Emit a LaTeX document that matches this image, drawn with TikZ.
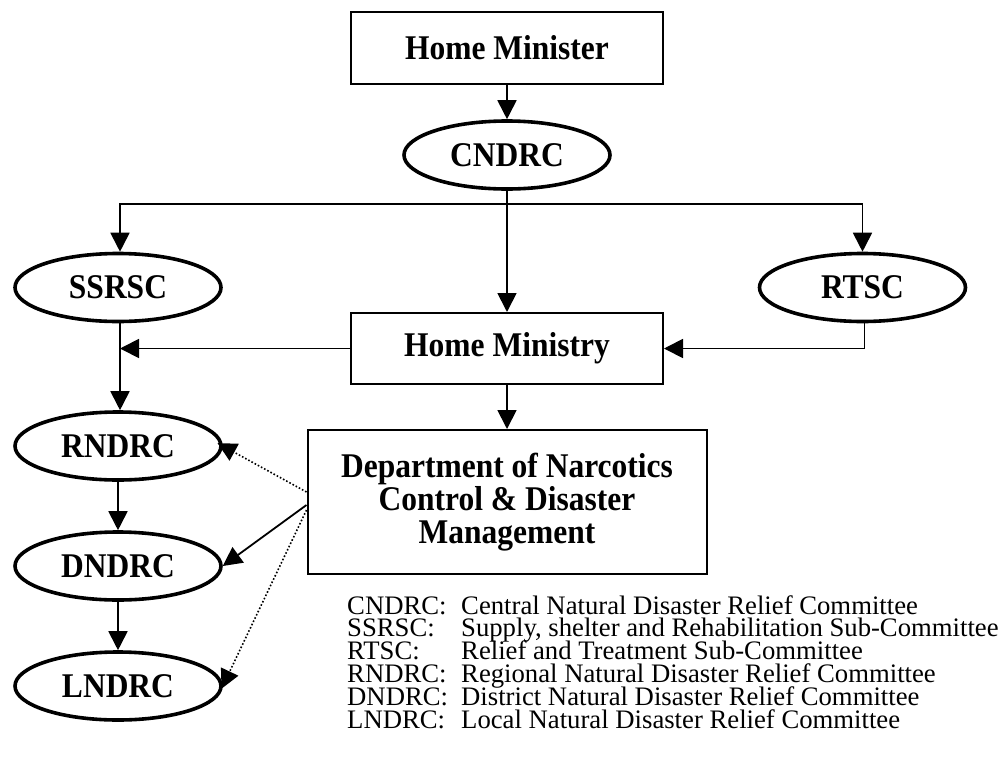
\documentclass[tikz,border=0pt]{standalone}
\usepackage{fontspec}
\usepackage{graphicx}
\setmainfont{Liberation Serif}
\usetikzlibrary{shapes.geometric,arrows.meta,calc}
% bold labels are set slightly taller than wide
\newcommand{\tallbf}[1]{\scalebox{1}[1.1]{#1}}
\begin{document}
\begin{tikzpicture}[x=1pt,y=-1pt,
  lbl/.style={font=\fontsize{31.5}{33.3}\selectfont\bfseries},
  boxnode/.style={lbl,draw,rectangle,line width=2pt,inner sep=0pt,align=center},
  oval/.style={lbl,draw,ellipse,line width=3.6pt,inner sep=0pt,minimum width=206pt,minimum height=68pt},
  conn/.style={line width=1.8pt,-{Triangle[length=19pt,width=19pt]}},
  dotconn/.style={line width=1.6pt,dotted,-{Triangle[length=19pt,width=19pt]}},
  legitem/.style={anchor=base west,inner sep=0pt,text height=16pt,text depth=5pt,
    font=\fontsize{26.7}{28}\selectfont}]
\useasboundingbox[fill=white] (0,0) rectangle (1002,769);

% hierarchy
\node[boxnode,minimum width=312pt,minimum height=72pt] (hm) at (507,48) {\tallbf{Home Minister}};
\node[oval] (cn) at (507,155) {\tallbf{CNDRC}};
\node[oval] (ss) at (118,287.5) {\tallbf{SSRSC}};
\node[oval] (rt) at (862.5,287.5) {\tallbf{RTSC}};
\node[boxnode,minimum width=312pt,minimum height=71pt] (hmy) at (507,348.5) {\tallbf{Home Ministry}};
\node[boxnode,minimum width=399pt,minimum height=144pt] (dept) at (507,502)
  {\tallbf{Department of Narcotics}\\\tallbf{Control \& Disaster}\\\tallbf{Management}};
\node[oval] (rn) at (118,446) {\tallbf{RNDRC}};
\node[oval] (dn) at (118,566) {\tallbf{DNDRC}};
\node[oval] (ln) at (118,686) {\tallbf{LNDRC}};

% top of the chain
\draw[conn] (hm.south) -- (cn.north);

% branching below CNDRC
\coordinate (br) at (507,204);
\draw[line width=1.8pt] (cn.south) -- (br);
\draw[conn] (br) -| ([xshift=2pt]ss.north);
\draw[conn] (br) -| (rt.north);
\draw[conn] (cn.south) -- (hmy.north);

% links around the Home Ministry
\draw[conn] (hmy.west) -- ([xshift=2pt]ss.south |- hmy.west);
\draw[conn] ([xshift=2pt]rt.south) |- (hmy.east);
\draw[conn] ([xshift=2pt]ss.south) -- ([xshift=2pt]rn.north);
\draw[conn] (hmy.south) -- (dept.north);

% district chain
\draw[conn] (rn.south) -- (dn.north);
\draw[conn] (dn.south) -- (ln.north);

% department links
\draw[dotconn,shorten >=-6pt] ([yshift=10pt]dept.west) -- (rn.east);
\draw[conn] ([yshift=-3pt]dept.west) -- (dn.east);
\draw[dotconn,shorten >=-3pt] ([yshift=-8pt]dept.west) -- (ln.east);

% legend
\foreach \i/\ab/\tx in {0/CNDRC:/Central Natural Disaster Relief Committee,
  1/SSRSC:/{Supply, shelter and Rehabilitation Sub-Committee},
  2/RTSC:/Relief and Treatment Sub-Committee,
  3/RNDRC:/Regional Natural Disaster Relief Committee,
  4/DNDRC:/District Natural Disaster Relief Committee,
  5/LNDRC:/Local Natural Disaster Relief Committee}{
  \node[legitem] (ab\i) at (347,{614+22.9*\i}) {\ab};
  \node[legitem] (tx\i) at (461,{614+22.9*\i}) {\tx};
}
\end{tikzpicture}
\end{document}
